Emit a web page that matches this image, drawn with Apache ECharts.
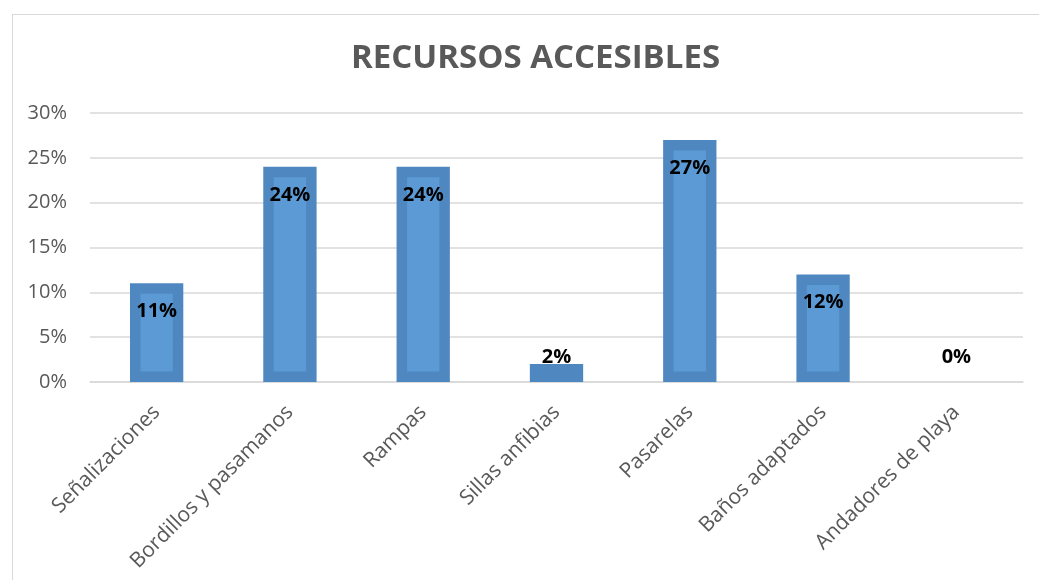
<!DOCTYPE html>
<html>
<head>
<meta charset="utf-8">
<script src="https://cdn.jsdelivr.net/npm/echarts@6/dist/echarts.min.js"></script>
<style>
  html, body { margin: 0; padding: 0; background: #fff; }
  #frame { position: absolute; left: 12px; top: 14px; width: 1100px; height: 700px; border: 1.5px solid #D9D9D9; box-sizing: border-box; }
  #chart { position: absolute; left: 0; top: 0; width: 1039px; height: 580px; }
</style>
</head>
<body>
<div id="frame"></div>
<div id="chart"></div>
<script>
const titleText = 'RECURSOS ACCESIBLES';
const categories = ['Señalizaciones', 'Bordillos y pasamanos', 'Rampas', 'Sillas anfibias', 'Pasarelas', 'Baños adaptados', 'Andadores de playa'];
const values = [11, 24, 24, 2, 27, 12, 0];
const yTicks = { min: 0, max: 30, interval: 5 };

const FONT = '"Open Sans", sans-serif';
const chart = echarts.init(document.getElementById('chart'), null, { renderer: 'canvas' });

chart.setOption({
  backgroundColor: 'transparent',
  animation: false,
  title: {
    text: titleText,
    left: 346,
    top: 37,
    textStyle: { fontFamily: FONT, fontWeight: 'bold', fontSize: 33, color: '#595959' }
  },
  grid: { left: 90, right: 16, top: 113, bottom: 198, containLabel: false },
  xAxis: {
    type: 'category',
    data: categories,
    axisLine: { show: true, lineStyle: { color: '#D9D9D9', width: 1.5 } },
    axisTick: { show: false },
    axisLabel: { rotate: 45, interval: 0, margin: 27, fontFamily: FONT, fontSize: 21, color: '#595959' }
  },
  yAxis: {
    type: 'value',
    min: yTicks.min, max: yTicks.max, interval: yTicks.interval,
    axisLine: { show: false },
    axisTick: { show: false },
    axisLabel: { formatter: '{value}%', margin: 23, fontFamily: FONT, fontSize: 20, color: '#595959' },
    splitLine: { lineStyle: { color: '#D9D9D9', width: 1.5 } }
  },
  series: [{
    type: 'custom',
    data: values.map((v, i) => [i, v]),
    renderItem: function (params, api) {
      const idx = api.value(0), val = api.value(1);
      const top = api.coord([idx, val]);
      const base = api.coord([idx, 0]);
      const bw = api.size([1, 0])[0] * 0.4;
      const h = base[1] - top[1];
      const x0 = top[0] - bw / 2;
      const b = 10.5;
      const children = [];
      if (h > 0) {
        children.push({ type: 'rect', shape: { x: x0, y: top[1], width: bw, height: h }, style: { fill: '#4F88C0' } });
        if (h > 2 * b) {
          children.push({ type: 'rect', shape: { x: x0 + b, y: top[1] + b, width: bw - 2 * b, height: h - 2 * b }, style: { fill: '#5B9AD5' } });
        }
      }
      const ly = h > 50 ? top[1] + 28 : base[1] - 25;
      children.push({
        type: 'text',
        style: { text: val + '%', x: top[0], y: ly, align: 'center', verticalAlign: 'middle', font: 'bold 20px ' + FONT, fill: '#000' }
      });
      return { type: 'group', children: children };
    }
  }]
});
</script>
</body>
</html>
